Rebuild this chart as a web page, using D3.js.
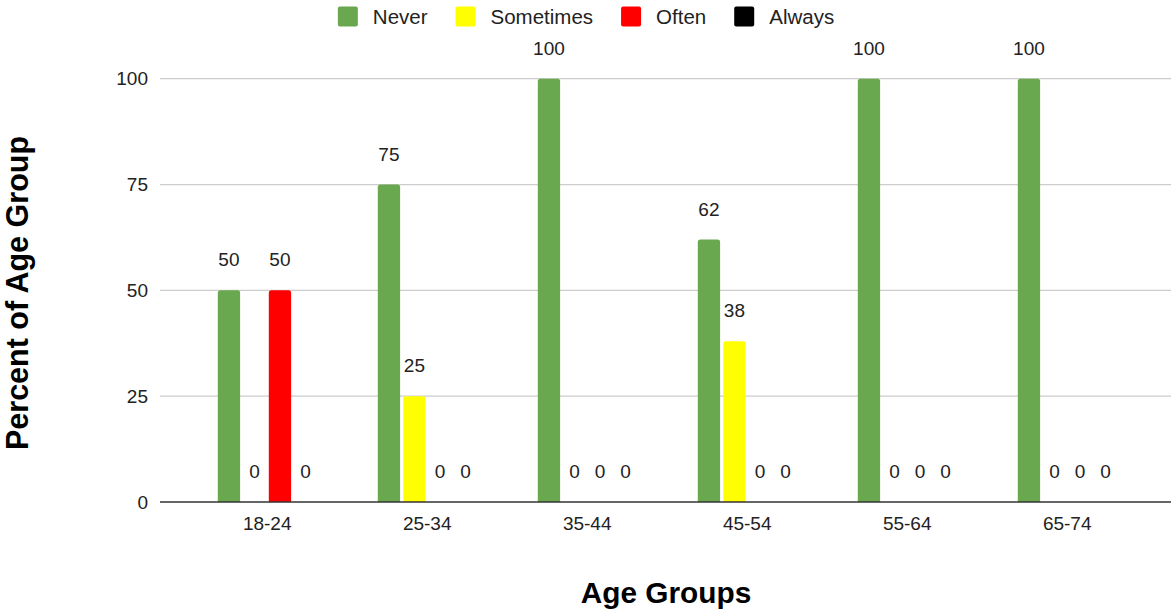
<!DOCTYPE html>
<html>
<head>
<meta charset="utf-8">
<script src="https://cdn.jsdelivr.net/npm/d3@7/dist/d3.min.js"></script>
<style>
  html, body { margin: 0; padding: 0; background: #fff; }
  svg { display: block; font-family: "Liberation Sans", Arial, sans-serif; }
</style>
</head>
<body>
<svg id="chart" width="1171" height="610"></svg>
<script>
// Age groups along the x axis
const categories = ["18-24", "25-34", "35-44", "45-54", "55-64", "65-74"];
// Response frequency series (percent of each age group)
const seriesNames = ["Never", "Sometimes", "Often", "Always"];
const never     = [50, 75, 100, 62, 100, 100];
const sometimes = [0, 25, 0, 38, 0, 0];
const often     = [50, 0, 0, 0, 0, 0];
const always    = [0, 0, 0, 0, 0, 0];
const seriesColors = ["#6aa84f", "#ffff00", "#ff0000", "#000000"];
const yTicks = [0, 25, 50, 75, 100];

const seriesValues = [never, sometimes, often, always];
const rows = categories.map((c, i) => ({
  category: c,
  values: seriesNames.map((s, j) => ({ key: s, value: seriesValues[j][i], color: seriesColors[j] }))
}));

const svg = d3.select("#chart");
const textColor = "#222222";

const plotLeft = 160, plotRight = 1171;
const x = d3.scaleBand().domain(categories).range([187.2, 1147.2]).padding(0);
const xInner = d3.scaleBand().domain(seriesNames)
  .range([x.bandwidth() / 2 - 49.4, x.bandwidth() / 2 + 49.4])
  .paddingInner(0.125).paddingOuter(0);
const y = d3.scaleLinear().domain([0, 100]).range([502, 78.7]);

// Gridlines
svg.append("g")
  .selectAll("line")
  .data(yTicks.filter(t => t !== 0))
  .join("line")
  .attr("x1", plotLeft).attr("x2", plotRight)
  .attr("y1", d => y(d)).attr("y2", d => y(d))
  .attr("stroke", "#cccccc").attr("stroke-width", 1.3);

// Y tick labels
svg.append("g")
  .selectAll("text")
  .data(yTicks)
  .join("text")
  .attr("x", 148)
  .attr("y", d => y(d))
  .attr("dy", "0.35em")
  .attr("text-anchor", "end")
  .attr("font-size", 19)
  .attr("fill", textColor)
  .text(d => d);

// Bars with slightly rounded tops
function barPath(x0, w, yTop, yBase, r) {
  const h = yBase - yTop;
  if (h <= 0) return "";
  const rr = Math.min(r, h, w / 2);
  return `M${x0},${yBase} L${x0},${yTop + rr} Q${x0},${yTop} ${x0 + rr},${yTop} ` +
         `L${x0 + w - rr},${yTop} Q${x0 + w},${yTop} ${x0 + w},${yTop + rr} L${x0 + w},${yBase} Z`;
}

const groups = svg.append("g")
  .selectAll("g")
  .data(rows)
  .join("g")
  .attr("transform", d => `translate(${x(d.category)},0)`);

groups.selectAll("path")
  .data(d => d.values)
  .join("path")
  .attr("d", d => barPath(xInner(d.key), xInner.bandwidth(), y(d.value), y(0), 2.5))
  .attr("fill", d => d.color);

// Value labels
groups.selectAll("text")
  .data(d => d.values)
  .join("text")
  .attr("x", d => xInner(d.key) + xInner.bandwidth() / 2)
  .attr("y", d => y(d.value) - 24)
  .attr("text-anchor", "middle")
  .attr("font-size", 19)
  .attr("fill", textColor)
  .text(d => d.value);

// X axis baseline
svg.append("line")
  .attr("x1", plotLeft).attr("x2", plotRight)
  .attr("y1", y(0)).attr("y2", y(0))
  .attr("stroke", "#333333").attr("stroke-width", 1.5);

// X tick labels
svg.append("g")
  .selectAll("text")
  .data(categories)
  .join("text")
  .attr("x", d => x(d) + x.bandwidth() / 2)
  .attr("y", 530)
  .attr("text-anchor", "middle")
  .attr("font-size", 19)
  .attr("fill", textColor)
  .text(d => d);

// Axis titles
svg.append("text")
  .attr("x", 666).attr("y", 603)
  .attr("text-anchor", "middle")
  .attr("font-size", 29.8)
  .attr("font-weight", "bold")
  .attr("fill", "#000")
  .text("Age Groups");

svg.append("text")
  .attr("transform", "translate(27.5,293) rotate(-90)")
  .attr("text-anchor", "middle")
  .attr("font-size", 30.5)
  .attr("font-weight", "bold")
  .attr("fill", "#000")
  .text("Percent of Age Group");

// Legend
const legend = svg.append("g");
const items = legend.selectAll("g")
  .data(seriesNames.map((s, i) => ({ name: s, color: seriesColors[i] })))
  .join("g");
items.append("rect")
  .attr("width", 20).attr("height", 20)
  .attr("y", 6.5).attr("rx", 2)
  .attr("fill", d => d.color);
items.append("text")
  .attr("x", 35).attr("y", 16.5)
  .attr("dy", "0.35em")
  .attr("font-size", 20.5)
  .attr("fill", textColor)
  .text(d => d.name);
let cursor = 0;
items.each(function () {
  const g = d3.select(this);
  g.attr("transform", `translate(${cursor},0)`);
  const w = 35 + g.select("text").node().getComputedTextLength();
  cursor += w + 28;
});
const totalW = cursor - 28;
legend.attr("transform", `translate(${586 - totalW / 2},0)`);
</script>
</body>
</html>
